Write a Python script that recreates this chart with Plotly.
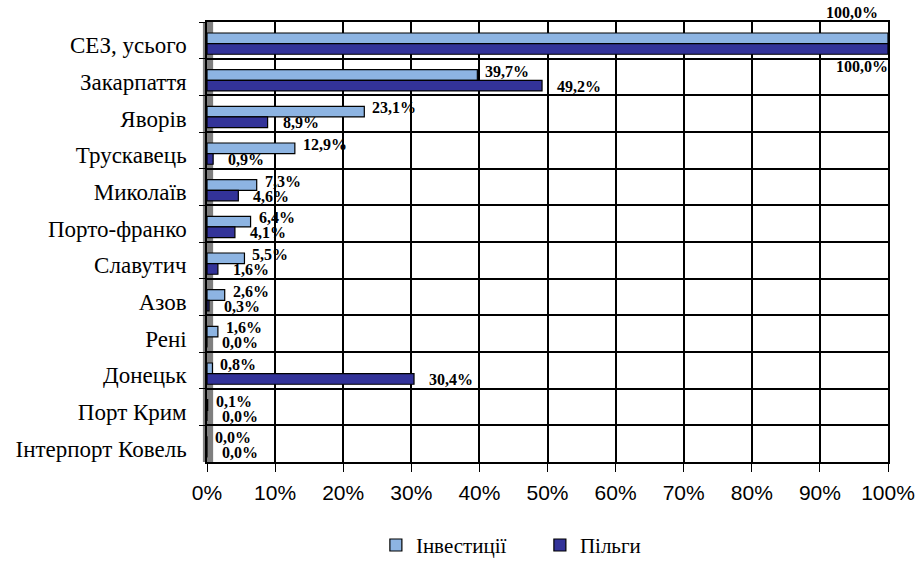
import plotly.graph_objects as go

categories = ["СЕЗ, усього", "Закарпаття", "Яворів", "Трускавець", "Миколаїв",
              "Порто-франко", "Славутич", "Азов", "Рені", "Донецьк",
              "Порт Крим", "Інтерпорт Ковель"]
investments = [100.0, 39.7, 23.1, 12.9, 7.3, 6.4, 5.5, 2.6, 1.6, 0.8, 0.1, 0.0]
benefits = [100.0, 49.2, 8.9, 0.9, 4.6, 4.1, 1.6, 0.3, 0.0, 30.4, 0.0, 0.0]
x_ticks = [0, 10, 20, 30, 40, 50, 60, 70, 80, 90, 100]
x_tick_labels = ["0%", "10%", "20%", "30%", "40%", "50%", "60%", "70%", "80%", "90%", "100%"]
series_names = ["Інвестиції", "Пільги"]

LIGHT = "#8DB4E2"
DARK = "#333399"
SERIF = "Liberation Serif"
SANS = "Liberation Sans"

fig = go.Figure()
fig.add_trace(go.Bar(
    y=categories, x=investments, name=series_names[0], orientation="h",
    marker=dict(color=LIGHT, line=dict(color="black", width=1.2)),
    width=0.29, offset=-0.2,
))
fig.add_trace(go.Bar(
    y=categories, x=benefits, name=series_names[1], orientation="h",
    marker=dict(color=DARK, line=dict(color="black", width=1.2)),
    width=0.29, offset=0.09,
))

def fmt(v):
    return f"{v:.1f}%".replace(".", ",")

label_font = dict(family=SERIF, size=16, color="black")
annotations = []
for cat, vi, vb in zip(categories, investments, benefits):
    if vi >= 99.9:
        annotations.append(dict(x=vi, y=cat, text=f"<b>{fmt(vi)}</b>", showarrow=False,
                                xanchor="right", xshift=-8, yshift=28, yanchor="middle",
                                font=label_font))
    else:
        annotations.append(dict(x=vi, y=cat, text=f"<b>{fmt(vi)}</b>", showarrow=False,
                                xanchor="left", xshift=6, yshift=6, yanchor="middle",
                                font=label_font))
    if vb >= 99.9:
        annotations.append(dict(x=vb, y=cat, text=f"<b>{fmt(vb)}</b>", showarrow=False,
                                xanchor="right", xshift=2, yshift=-26, yanchor="middle",
                                font=label_font))
    else:
        annotations.append(dict(x=vb, y=cat, text=f"<b>{fmt(vb)}</b>", showarrow=False,
                                xanchor="left", xshift=13, yshift=-9, yanchor="middle",
                                font=label_font))

fig.update_layout(
    width=916, height=566,
    margin=dict(l=207, r=28, t=22, b=104, autoexpand=False),
    plot_bgcolor="white", paper_bgcolor="white",
    barmode="group",
    showlegend=True,
    legend=dict(orientation="h", x=0.248, xanchor="left", y=-0.236, yanchor="bottom",
                font=dict(family=SERIF, size=21, color="black"),
                entrywidth=119, itemwidth=30, tracegroupgap=0),
    annotations=annotations,
    shapes=[dict(type="rect", xref="x domain", yref="y domain", x0=-0.006, x1=0.009, y0=0, y1=1,
                 fillcolor="#7f7f7f", line=dict(width=0), layer="below")],
)

fig.update_xaxes(
    range=[0, 100], tickvals=x_ticks, ticktext=x_tick_labels,
    showgrid=True, gridcolor="black", gridwidth=1.5,
    showline=True, linecolor="black", linewidth=1.5, mirror=True,
    ticks="outside", ticklen=8, tickcolor="black", tickwidth=1.2,
    ticklabelstandoff=3,
    tickfont=dict(family=SANS, size=21, color="black"),
    zeroline=False,
)
fig.update_yaxes(
    autorange=False, range=[len(categories) - 0.5, -0.5], type="category", tickson="boundaries",
    showgrid=True, gridcolor="black", gridwidth=1.5,
    showline=True, linecolor="black", linewidth=1.5, mirror=True,
    ticks="outside", ticklen=6, tickcolor="black", tickwidth=1.2,
    ticklabelstandoff=14, ticklabelshift=-5,
    tickfont=dict(family=SERIF, size=23, color="black"),
)

fig.write_html("out.html", config={"displayModeBar": False},
               post_script="document.body.style.margin='0px';")
